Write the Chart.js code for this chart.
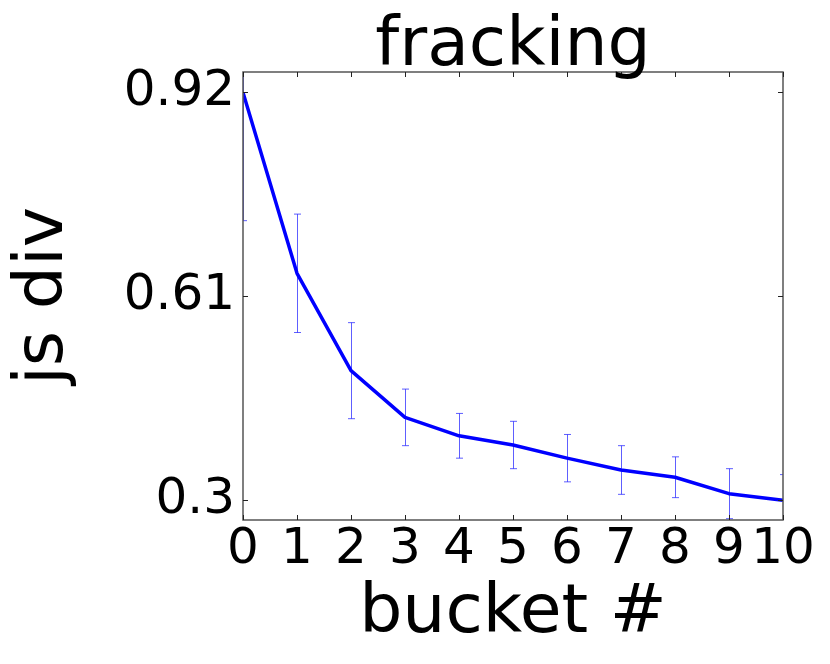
<!DOCTYPE html>
<html>
<head>
<meta charset="utf-8">
<title>fracking</title>
<script src="https://cdn.jsdelivr.net/npm/chart.js@4.4.1/dist/chart.umd.min.js"></script>
<style>
  html, body { margin: 0; padding: 0; background: #fff; }
  canvas { display: block; }
</style>
</head>
<body>
<canvas id="fracking" width="830" height="664"></canvas>
<script>
// Data
////////////////////////////////////////////////
const buckets   = [0, 1, 2, 3, 4, 5, 6, 7, 8, 9, 10];
const jsDiv     = [0.920, 0.645, 0.497, 0.426, 0.398, 0.384, 0.364, 0.346, 0.335, 0.310, 0.300];
const jsDivErr  = [0.195, 0.090, 0.073, 0.043, 0.034, 0.036, 0.036, 0.037, 0.031, 0.038, 0.039];
const yTickValues = [0.3, 0.61, 0.92];

const chartTitle = 'fracking';
const xTitle = 'bucket #';
const yTitle = 'js div';

const FONT = "'DejaVu Sans', 'Liberation Sans', sans-serif";

// Plugins
////////////////////////////////////////////////

// vertical error bars with caps, drawn behind the line
const errorBars = {
    id: 'errorBars',
    beforeDatasetsDraw(chart) {
        const {ctx, chartArea, scales: {x, y}} = chart;
        ctx.save();
        ctx.beginPath();
        ctx.rect(chartArea.left, chartArea.top, chartArea.right - chartArea.left, chartArea.bottom - chartArea.top);
        ctx.clip();
        ctx.strokeStyle = 'rgba(40, 40, 255, 0.75)';
        ctx.lineWidth = 1;
        buckets.forEach((b, i) => {
            const px = Math.round(x.getPixelForValue(b)) + 0.5;
            const top = y.getPixelForValue(jsDiv[i] + jsDivErr[i]);
            const bot = y.getPixelForValue(jsDiv[i] - jsDivErr[i]);
            ctx.beginPath();
            ctx.moveTo(px, top);
            ctx.lineTo(px, bot);
            ctx.moveTo(px - 3.5, top);
            ctx.lineTo(px + 3.5, top);
            ctx.moveTo(px - 3.5, bot);
            ctx.lineTo(px + 3.5, bot);
            ctx.stroke();
        });
        ctx.restore();
    }
};

// box round the plot with inward ticks on all four sides, plus title
const frame = {
    id: 'frame',
    afterDraw(chart) {
        const {ctx, chartArea: a, scales: {x, y}} = chart;
        ctx.save();
        ctx.strokeStyle = '#555';
        ctx.lineWidth = 1.5;
        ctx.strokeRect(a.left, a.top, a.right - a.left, a.bottom - a.top);

        ctx.strokeStyle = '#222';
        ctx.lineWidth = 1;
        const len = 5;
        x.ticks.forEach(t => {
            const px = Math.round(x.getPixelForValue(t.value)) + 0.5;
            ctx.beginPath();
            ctx.moveTo(px, a.bottom); ctx.lineTo(px, a.bottom - len);
            ctx.moveTo(px, a.top);    ctx.lineTo(px, a.top + len);
            ctx.stroke();
        });
        y.ticks.forEach(t => {
            const py = Math.round(y.getPixelForValue(t.value)) + 0.5;
            ctx.beginPath();
            ctx.moveTo(a.left, py);  ctx.lineTo(a.left + len, py);
            ctx.moveTo(a.right, py); ctx.lineTo(a.right - len, py);
            ctx.stroke();
        });

        ctx.fillStyle = '#000';
        ctx.font = '68px ' + FONT;
        ctx.textAlign = 'center';
        ctx.textBaseline = 'alphabetic';
        ctx.fillText(chartTitle, (a.left + a.right) / 2, a.top - 7);
        ctx.restore();
    }
};

// Chart
////////////////////////////////////////////////
const config = {
    type: 'line',
    data: {
        datasets: [{
            label: 'js div',
            data: buckets.map((b, i) => ({x: b, y: jsDiv[i]})),
            borderColor: '#0000ff',
            borderWidth: 3.5,
            borderJoinStyle: 'round',
            pointRadius: 0,
            tension: 0,
            fill: false
        }]
    },
    options: {
        responsive: false,
        animation: false,
        devicePixelRatio: 1,
        layout: { padding: { top: 72, right: 47, bottom: 0, left: 0 } },
        plugins: {
            legend: { display: false },
            tooltip: { enabled: false }
        },
        scales: {
            x: {
                type: 'linear',
                min: 0,
                max: 10,
                grid: { display: false, drawTicks: false },
                border: { display: false },
                ticks: {
                    stepSize: 1,
                    autoSkip: false,
                    maxRotation: 0,
                    padding: 0,
                    color: '#000',
                    font: { family: FONT, size: 50 }
                },
                title: {
                    display: true,
                    text: xTitle,
                    color: '#000',
                    font: { family: FONT, size: 68 },
                    padding: { top: 0, bottom: 9 }
                },
                afterFit: s => { s.height = 144; }
            },
            y: {
                type: 'linear',
                min: 0.27,
                max: 0.951,
                grid: { display: false, drawTicks: false },
                border: { display: false },
                afterBuildTicks: s => { s.ticks = yTickValues.map(v => ({value: v})); },
                ticks: {
                    padding: 8,
                    color: '#000',
                    font: { family: FONT, size: 50 },
                    callback: v => String(v)
                },
                title: {
                    display: true,
                    text: yTitle,
                    color: '#000',
                    font: { family: FONT, size: 68 },
                    padding: { top: 4, bottom: 0 }
                },
                afterFit: s => { s.width = 243; }
            }
        }
    },
    plugins: [errorBars, frame]
};

const fracking = new Chart(document.getElementById('fracking'), config);
</script>
</body>
</html>
